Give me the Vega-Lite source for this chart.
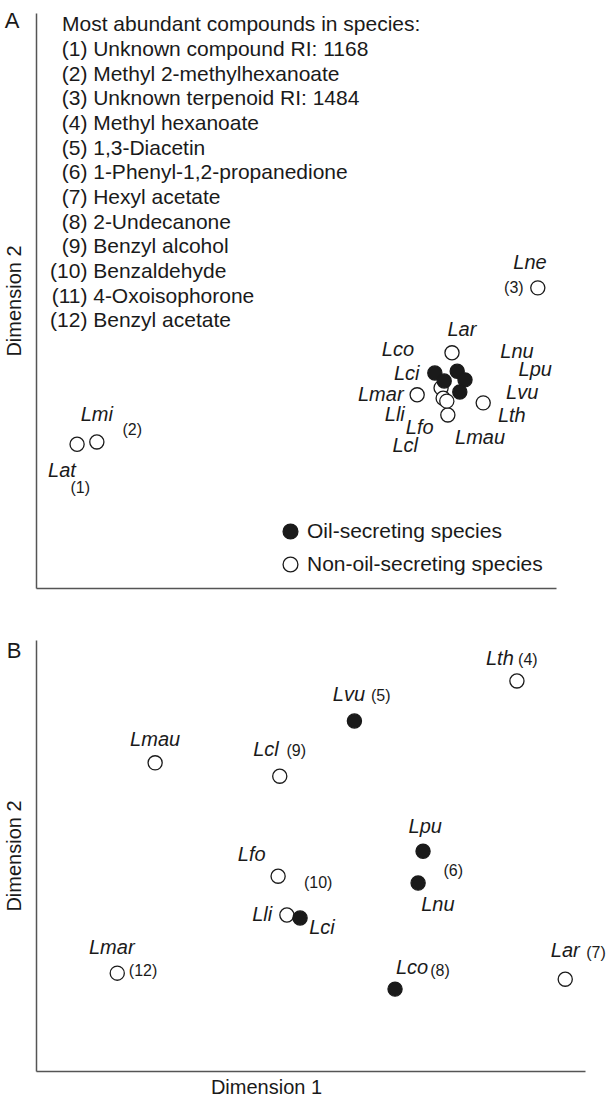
{
  "$schema": "https://vega.github.io/schema/vega-lite/v6.json",
  "padding": {"left": 4, "top": 10, "right": 0, "bottom": 0},
  "background": "white",
  "config": {
    "font": "Liberation Sans",
    "view": {"stroke": null},
    "axis": {"domain": true, "domainColor": "#555555", "domainWidth": 1.5, "ticks": false, "labels": false, "grid": false, "titleFontSize": 20, "titleFontWeight": "normal", "titleColor": "#1a1a1a", "titlePadding": 12, "titleFont": "Liberation Sans"},
    "text": {"color": "#1a1a1a", "font": "Liberation Sans"}
  },
  "datasets": {
    "ptsA": [
      {"species": "Lat", "group": "Non-oil-secreting species", "d1": 7.9, "d2": 25.0},
      {"species": "Lmi", "group": "Non-oil-secreting species", "d1": 11.7, "d2": 25.4},
      {"species": "Lne", "group": "Non-oil-secreting species", "d1": 96.5, "d2": 52.2},
      {"species": "Lar", "group": "Non-oil-secreting species", "d1": 80.0, "d2": 40.9},
      {"species": "Lmar", "group": "Non-oil-secreting species", "d1": 73.3, "d2": 33.6},
      {"species": "Lth", "group": "Non-oil-secreting species", "d1": 86.0, "d2": 32.2},
      {"species": "Lmau", "group": "Non-oil-secreting species", "d1": 79.2, "d2": 30.1},
      {"species": "Lli", "group": "Non-oil-secreting species", "d1": 77.9, "d2": 34.8},
      {"species": "Lfo", "group": "Non-oil-secreting species", "d1": 78.3, "d2": 33.0},
      {"species": "Lcl", "group": "Non-oil-secreting species", "d1": 79.0, "d2": 32.5},
      {"species": "Lco", "group": "Oil-secreting species", "d1": 76.7, "d2": 37.4},
      {"species": "Lci", "group": "Oil-secreting species", "d1": 78.5, "d2": 36.0},
      {"species": "Lnu", "group": "Oil-secreting species", "d1": 81.0, "d2": 37.7},
      {"species": "Lpu", "group": "Oil-secreting species", "d1": 82.5, "d2": 36.2},
      {"species": "Lvu", "group": "Oil-secreting species", "d1": 81.5, "d2": 34.1}
    ],
    "lblA": [
      {"kind": "species", "label": "Lne", "d1": 95.0, "d2": 56.5},
      {"kind": "compound", "label": "(3)", "d1": 91.9, "d2": 52.2},
      {"kind": "species", "label": "Lar", "d1": 81.9, "d2": 44.9},
      {"kind": "species", "label": "Lco", "d1": 69.6, "d2": 41.4},
      {"kind": "species", "label": "Lci", "d1": 71.3, "d2": 37.3},
      {"kind": "species", "label": "Lmar", "d1": 66.3, "d2": 33.6},
      {"kind": "species", "label": "Lli", "d1": 69.0, "d2": 30.1},
      {"kind": "species", "label": "Lfo", "d1": 73.8, "d2": 27.8},
      {"kind": "species", "label": "Lcl", "d1": 71.0, "d2": 24.7},
      {"kind": "species", "label": "Lmau", "d1": 85.4, "d2": 26.1},
      {"kind": "species", "label": "Lth", "d1": 91.5, "d2": 29.9},
      {"kind": "species", "label": "Lvu", "d1": 93.5, "d2": 34.0},
      {"kind": "species", "label": "Lpu", "d1": 96.0, "d2": 37.9},
      {"kind": "species", "label": "Lnu", "d1": 92.5, "d2": 41.0},
      {"kind": "species", "label": "Lmi", "d1": 11.7, "d2": 30.1},
      {"kind": "compound", "label": "(2)", "d1": 18.5, "d2": 27.5},
      {"kind": "species", "label": "Lat", "d1": 5.0, "d2": 20.3},
      {"kind": "compound", "label": "(1)", "d1": 8.5, "d2": 17.4}
    ],
    "listA": [
      {"num": "(1)", "name": "Unknown compound RI: 1168", "d2": 93.6},
      {"num": "(2)", "name": "Methyl 2-methylhexanoate", "d2": 89.2},
      {"num": "(3)", "name": "Unknown terpenoid RI: 1484", "d2": 85.0},
      {"num": "(4)", "name": "Methyl hexanoate", "d2": 80.7},
      {"num": "(5)", "name": "1,3-Diacetin", "d2": 76.3},
      {"num": "(6)", "name": "1-Phenyl-1,2-propanedione", "d2": 72.2},
      {"num": "(7)", "name": "Hexyl acetate", "d2": 67.8},
      {"num": "(8)", "name": "2-Undecanone", "d2": 63.5},
      {"num": "(9)", "name": "Benzyl alcohol", "d2": 59.3},
      {"num": "(10)", "name": "Benzaldehyde", "d2": 55.0},
      {"num": "(11)", "name": "4-Oxoisophorone", "d2": 50.6},
      {"num": "(12)", "name": "Benzyl acetate", "d2": 46.4}
    ],
    "ptsB": [
      {"species": "Lth", "group": "Non-oil-secreting species", "d1": 87.6, "d2": 90.5},
      {"species": "Lmau", "group": "Non-oil-secreting species", "d1": 21.7, "d2": 71.5},
      {"species": "Lcl", "group": "Non-oil-secreting species", "d1": 44.4, "d2": 68.4},
      {"species": "Lfo", "group": "Non-oil-secreting species", "d1": 44.1, "d2": 45.2},
      {"species": "Lli", "group": "Non-oil-secreting species", "d1": 45.7, "d2": 36.2},
      {"species": "Lmar", "group": "Non-oil-secreting species", "d1": 14.8, "d2": 22.7},
      {"species": "Lar", "group": "Non-oil-secreting species", "d1": 96.4, "d2": 21.3},
      {"species": "Lvu", "group": "Oil-secreting species", "d1": 58.0, "d2": 81.2},
      {"species": "Lpu", "group": "Oil-secreting species", "d1": 70.5, "d2": 51.0},
      {"species": "Lnu", "group": "Oil-secreting species", "d1": 69.6, "d2": 43.6},
      {"species": "Lci", "group": "Oil-secreting species", "d1": 48.1, "d2": 35.5},
      {"species": "Lco", "group": "Oil-secreting species", "d1": 65.4, "d2": 19.0}
    ],
    "lblB": [
      {"kind": "species", "label": "Lth", "d1": 84.5, "d2": 95.6},
      {"kind": "compound", "label": "(4)", "d1": 89.6, "d2": 95.4},
      {"kind": "species", "label": "Lvu", "d1": 57.0, "d2": 87.2},
      {"kind": "compound", "label": "(5)", "d1": 62.8, "d2": 87.0},
      {"kind": "species", "label": "Lmau", "d1": 21.7, "d2": 76.8},
      {"kind": "species", "label": "Lcl", "d1": 41.9, "d2": 74.5},
      {"kind": "compound", "label": "(9)", "d1": 47.4, "d2": 74.2},
      {"kind": "species", "label": "Lpu", "d1": 70.9, "d2": 56.6},
      {"kind": "compound", "label": "(6)", "d1": 76.0, "d2": 46.4},
      {"kind": "species", "label": "Lfo", "d1": 39.3, "d2": 50.1},
      {"kind": "compound", "label": "(10)", "d1": 51.4, "d2": 43.6},
      {"kind": "species", "label": "Lnu", "d1": 73.2, "d2": 38.5},
      {"kind": "species", "label": "Lli", "d1": 41.2, "d2": 36.2},
      {"kind": "species", "label": "Lci", "d1": 52.1, "d2": 33.2},
      {"kind": "species", "label": "Lmar", "d1": 13.8, "d2": 28.5},
      {"kind": "compound", "label": "(12)", "d1": 19.5, "d2": 23.2},
      {"kind": "species", "label": "Lar", "d1": 96.4, "d2": 27.8},
      {"kind": "compound", "label": "(7)", "d1": 102.0, "d2": 27.4},
      {"kind": "species", "label": "Lco", "d1": 68.5, "d2": 23.9},
      {"kind": "compound", "label": "(8)", "d1": 73.6, "d2": 23.2}
    ]
  },
  "spacing": 52,
  "resolve": {"scale": {"x": "independent", "y": "independent", "fill": "independent"}, "legend": {"fill": "independent"}},
  "vconcat": [
    {
      "width": 520,
      "height": 575,
      "layer": [
        {
          "data": {"name": "ptsA"},
          "mark": {"type": "point", "shape": "circle", "filled": true, "size": 200, "stroke": "#1a1a1a", "strokeWidth": 1.3, "opacity": 1},
          "encoding": {
            "x": {"field": "d1", "type": "quantitative", "scale": {"domain": [0, 100]}, "axis": {"title": null}},
            "y": {"field": "d2", "type": "quantitative", "scale": {"domain": [0, 100]}, "axis": {"title": "Dimension 2"}},
            "fill": {"field": "group", "type": "nominal", "scale": {"domain": ["Oil-secreting species", "Non-oil-secreting species"], "range": ["#1a1a1a", "white"]},
              "legend": {"title": null, "orient": "none", "legendX": 244, "legendY": 508, "labelFontSize": 21, "labelFont": "Liberation Sans", "labelColor": "#1a1a1a", "labelLimit": 0, "symbolSize": 220, "symbolStrokeColor": "#1a1a1a", "symbolStrokeWidth": 1.3, "symbolType": "circle", "rowPadding": 11, "labelOffset": 6}}
          }
        },
        {
          "data": {"name": "lblA"},
          "transform": [{"filter": "datum.kind === 'species'"}],
          "mark": {"type": "text", "fontStyle": "italic", "fontSize": 20, "align": "center", "baseline": "middle"},
          "encoding": {"x": {"field": "d1", "type": "quantitative"}, "y": {"field": "d2", "type": "quantitative"}, "text": {"field": "label"}}
        },
        {
          "data": {"name": "lblA"},
          "transform": [{"filter": "datum.kind === 'compound'"}],
          "mark": {"type": "text", "fontSize": 16, "align": "center", "baseline": "middle"},
          "encoding": {"x": {"field": "d1", "type": "quantitative"}, "y": {"field": "d2", "type": "quantitative"}, "text": {"field": "label"}}
        },
        {
          "data": {"values": [{"heading": "Most abundant compounds in species:", "d2": 97.9}]},
          "mark": {"type": "text", "fontSize": 21, "align": "left", "baseline": "middle"},
          "encoding": {"x": {"datum": 5.0, "type": "quantitative"}, "y": {"field": "d2", "type": "quantitative"}, "text": {"field": "heading"}}
        },
        {
          "data": {"name": "listA"},
          "mark": {"type": "text", "fontSize": 21, "align": "right", "baseline": "middle"},
          "encoding": {"x": {"datum": 9.9, "type": "quantitative"}, "y": {"field": "d2", "type": "quantitative"}, "text": {"field": "num"}}
        },
        {
          "data": {"name": "listA"},
          "mark": {"type": "text", "fontSize": 21, "align": "left", "baseline": "middle"},
          "encoding": {"x": {"datum": 11.0, "type": "quantitative"}, "y": {"field": "d2", "type": "quantitative"}, "text": {"field": "name"}}
        },
        {
          "data": {"values": [{"panel": "A", "d1": -4.6, "d2": 98.6}]},
          "mark": {"type": "text", "fontSize": 22, "align": "center", "baseline": "middle"},
          "encoding": {"x": {"field": "d1", "type": "quantitative"}, "y": {"field": "d2", "type": "quantitative"}, "text": {"field": "panel"}}
        }
      ]
    },
    {
      "width": 549,
      "height": 431,
      "layer": [
        {
          "data": {"name": "ptsB"},
          "mark": {"type": "point", "shape": "circle", "filled": true, "size": 200, "stroke": "#1a1a1a", "strokeWidth": 1.3, "opacity": 1},
          "encoding": {
            "x": {"field": "d1", "type": "quantitative", "scale": {"domain": [0, 100]}, "axis": {"title": "Dimension 1", "titleX": 230, "titlePadding": 6}},
            "y": {"field": "d2", "type": "quantitative", "scale": {"domain": [0, 100]}, "axis": {"title": "Dimension 2"}},
            "fill": {"field": "group", "type": "nominal", "scale": {"domain": ["Oil-secreting species", "Non-oil-secreting species"], "range": ["#1a1a1a", "white"]}, "legend": null}
          }
        },
        {
          "data": {"name": "lblB"},
          "transform": [{"filter": "datum.kind === 'species'"}],
          "mark": {"type": "text", "fontStyle": "italic", "fontSize": 20, "align": "center", "baseline": "middle"},
          "encoding": {"x": {"field": "d1", "type": "quantitative"}, "y": {"field": "d2", "type": "quantitative"}, "text": {"field": "label"}}
        },
        {
          "data": {"name": "lblB"},
          "transform": [{"filter": "datum.kind === 'compound'"}],
          "mark": {"type": "text", "fontSize": 16, "align": "center", "baseline": "middle"},
          "encoding": {"x": {"field": "d1", "type": "quantitative"}, "y": {"field": "d2", "type": "quantitative"}, "text": {"field": "label"}}
        },
        {
          "data": {"values": [{"panel": "B", "d1": -4.0, "d2": 97.4}]},
          "mark": {"type": "text", "fontSize": 22, "align": "center", "baseline": "middle"},
          "encoding": {"x": {"field": "d1", "type": "quantitative"}, "y": {"field": "d2", "type": "quantitative"}, "text": {"field": "panel"}}
        }
      ]
    }
  ]
}
